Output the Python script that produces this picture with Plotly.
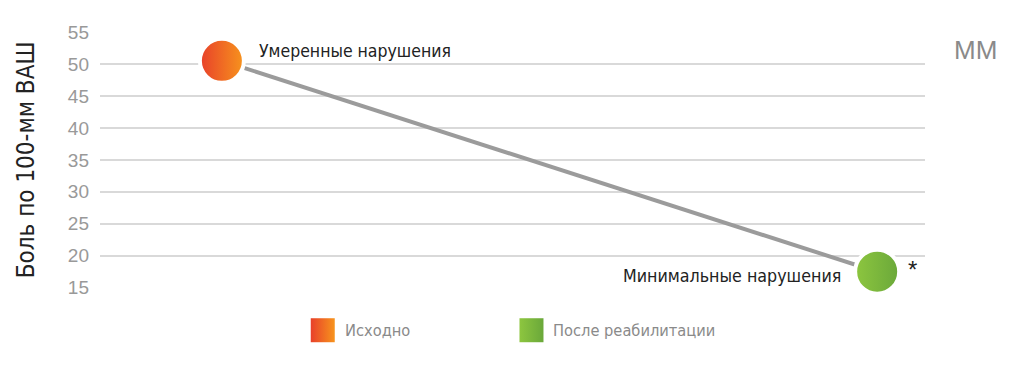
import plotly.graph_objects as go

# ---- data ----
stages = ["Исходно", "После реабилитации"]
x_pos = [0, 1]
pain_vas = [50.5, 17.5]
point_labels = ["Умеренные нарушения", "Минимальные нарушения"]
colors_right = ["#f7941d", "#6aa83a"]
colors_left = ["#e8402a", "#8dc63f"]
y_ticks = [15, 20, 25, 30, 35, 40, 45, 50, 55]
y_title = "Боль по 100-мм ВАШ"
unit_label = "MM"
legend_x = [0.27, 0.523]

FONT = "Liberation Sans Narrow, DejaVu Sans Condensed, sans-serif"
TICKFONT = "Liberation Sans, sans-serif"

fig = go.Figure()

# connecting line
fig.add_trace(go.Scatter(
    x=x_pos, y=pain_vas, mode="lines",
    line=dict(color="#9b9b9b", width=4),
    hoverinfo="skip", showlegend=False, cliponaxis=False,
))
# points
fig.add_trace(go.Scatter(
    x=x_pos, y=pain_vas, mode="markers",
    marker=dict(size=44, color=colors_left,
                gradient=dict(type="horizontal", color=colors_right),
                line=dict(color="white", width=4)),
    showlegend=False, cliponaxis=False,
))

# custom legend on a second axis pair
fig.add_trace(go.Scatter(
    x=legend_x, y=[0, 0], xaxis="x2", yaxis="y2",
    mode="markers",
    marker=dict(symbol="square", size=24, color=colors_left,
                gradient=dict(type="horizontal", color=colors_right),
                line=dict(width=0)),
    showlegend=False, hoverinfo="skip", cliponaxis=False,
))
for lx, name in zip(legend_x, stages):
    fig.add_annotation(x=lx, y=0, xref="x2", yref="y2", text=name, showarrow=False,
                       xanchor="left", xshift=20, yshift=0,
                       font=dict(family=FONT, size=16.3, color="#8a8a8a"))

# labels
fig.add_annotation(x=x_pos[0], y=pain_vas[0], text=point_labels[0], showarrow=False,
                   xanchor="left", xshift=35, yshift=10,
                   font=dict(family=FONT, size=17.5, color="#222222"))
fig.add_annotation(x=x_pos[1], y=pain_vas[1], text=point_labels[1], showarrow=False,
                   xanchor="right", xshift=-34, yshift=-4,
                   font=dict(family=FONT, size=17.7, color="#222222"))
fig.add_annotation(x=x_pos[1], y=pain_vas[1], text="*", showarrow=False,
                   xanchor="center", xshift=35, yshift=2,
                   font=dict(family=TICKFONT, size=24, color="#222222"))
fig.add_annotation(x=1.0, y=55, xref="paper", text=unit_label, showarrow=False,
                   xanchor="left", xshift=27, yshift=-18,
                   font=dict(family=TICKFONT, size=26, color="#8a8a8a"))

fig.update_layout(
    width=1024, height=382,
    margin=dict(l=100, r=99, t=32, b=20),
    plot_bgcolor="white", paper_bgcolor="white",
    font=dict(family=FONT),
    xaxis=dict(range=[-0.186, 1.073], showgrid=False, zeroline=False,
               showticklabels=False, showline=False, anchor="y"),
    yaxis=dict(domain=[0.218, 1], range=[15, 55], tickvals=y_ticks,
               gridcolor="#d9d9d9", gridwidth=1.5, zeroline=False,
               showline=False, ticks="", ticklabelstandoff=10,
               tickfont=dict(family=TICKFONT, size=19, color="#999999"),
               title=dict(text=y_title, standoff=26,
                          font=dict(family=FONT, size=24, color="#222222"))),
    xaxis2=dict(domain=[0, 1], range=[0, 1], visible=False, anchor="y2"),
    yaxis2=dict(domain=[0, 0.176], range=[-1, 1], visible=False, anchor="x2"),
)

fig.write_html("out.html")
